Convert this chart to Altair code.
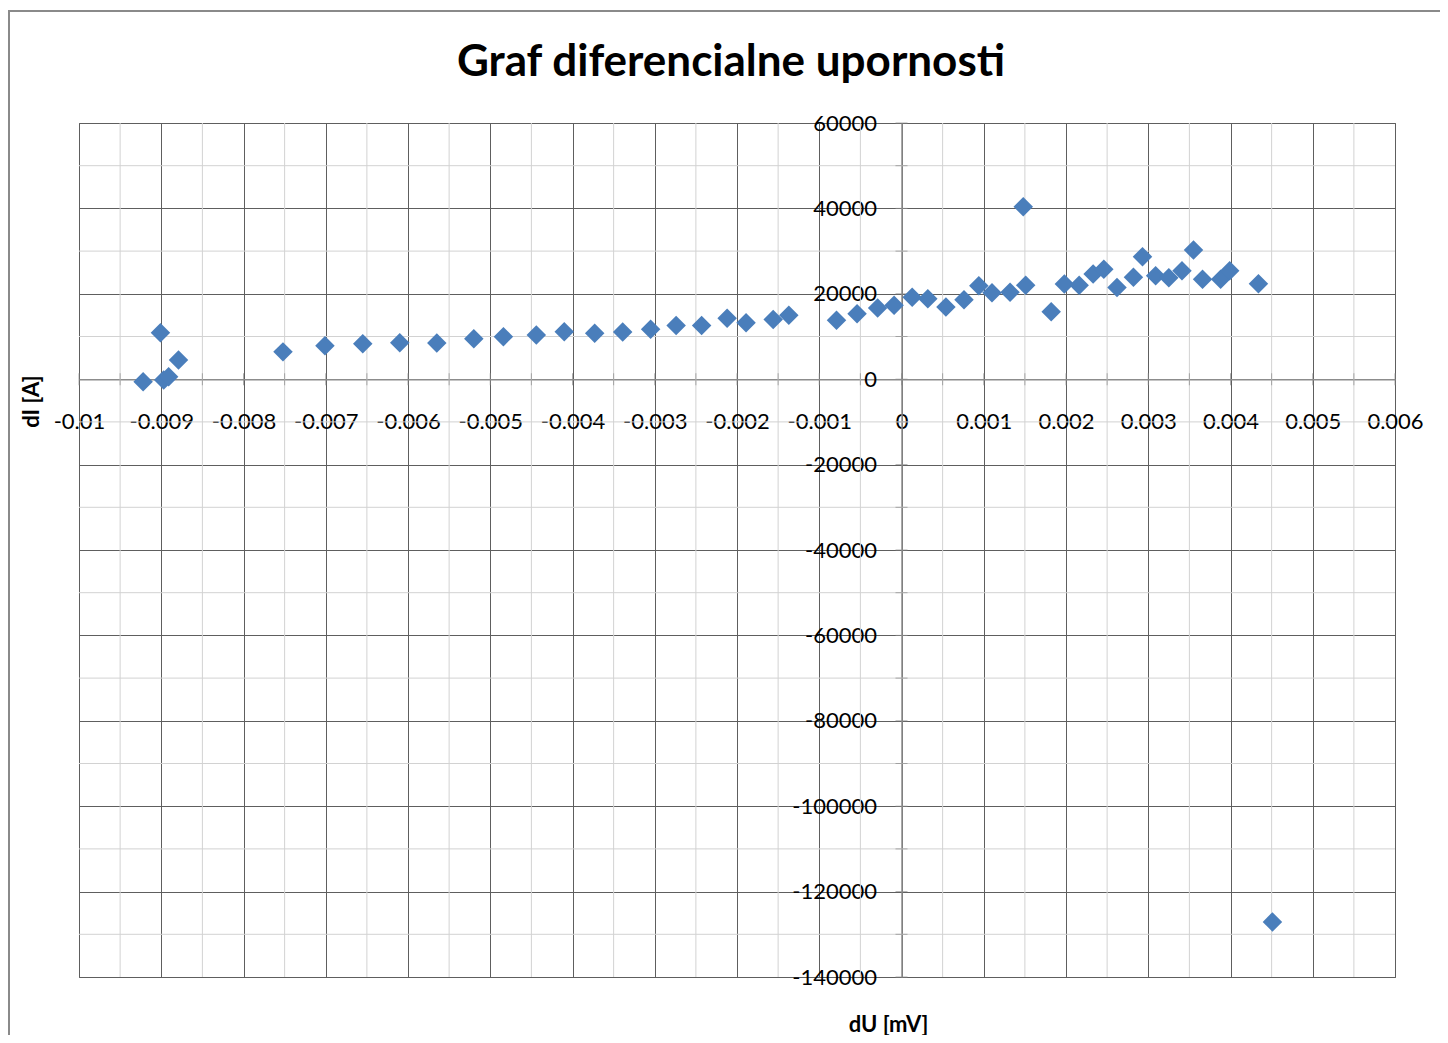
import altair as alt
import pandas as pd

# ---- data ----
du = [-0.00922, -0.00901, -0.00897, -0.00891, -0.00879, -0.00752, -0.00701, -0.00655,
      -0.00610, -0.00565, -0.00520, -0.00484, -0.00444, -0.00410, -0.00373, -0.00339,
      -0.00305, -0.00274, -0.00243, -0.00212, -0.00189, -0.00156, -0.00137, -0.00079,
      -0.00054, -0.00029, -0.00009, 0.00013, 0.00032, 0.00054, 0.00076, 0.00094,
      0.00110, 0.00132, 0.00148, 0.00151, 0.00182, 0.00198, 0.00216, 0.00233,
      0.00246, 0.00262, 0.00282, 0.00293, 0.00309, 0.00325, 0.00341, 0.00355,
      0.00366, 0.00388, 0.00399, 0.00434, 0.00451]
di = [-600, 10900, -200, 600, 4500, 6400, 7850, 8300,
      8550, 8500, 9500, 9950, 10350, 11100, 10750, 11050,
      11700, 12600, 12600, 14300, 13200, 14000, 14950, 13800,
      15350, 16650, 17300, 19200, 18850, 16900, 18600, 21900,
      20250, 20350, 40400, 22000, 15800, 22300, 22000, 24650,
      25750, 21500, 23850, 28700, 24250, 23750, 25400, 30250,
      23400, 23400, 25400, 22350, -127100]

x_major = [-0.01, -0.009, -0.008, -0.007, -0.006, -0.005, -0.004, -0.003, -0.002,
           -0.001, 0, 0.001, 0.002, 0.003, 0.004, 0.005, 0.006]
x_minor = [-0.0095, -0.0085, -0.0075, -0.0065, -0.0055, -0.0045, -0.0035, -0.0025,
           -0.0015, -0.0005, 0.0005, 0.0015, 0.0025, 0.0035, 0.0045, 0.0055]
y_major = [-140000, -120000, -100000, -80000, -60000, -40000, -20000, 0, 20000, 40000, 60000]
y_minor = [-130000, -110000, -90000, -70000, -50000, -30000, -10000, 10000, 30000, 50000]

TITLE = "Graf diferencialne upornosti"
X_TITLE = "dU [mV]"
Y_TITLE = "dI [A]"

# ---- layout ----
W, H = 1316, 854
X0, X1 = -0.01, 0.006
Y0, Y1 = -140000, 60000
x_zero_px = (0 - X0) / (X1 - X0) * W
y_zero_from_bottom = (0 - Y0) / (Y1 - Y0) * H

FONT = "Lato"
MAJOR = "#5e5e5e"
MINOR = "#d2d2d2"
AXIS = "#8c8c8c"
BLUE = "#4a7ebb"

xs = alt.Scale(domain=[X0, X1], nice=False, zero=False)
ys = alt.Scale(domain=[Y0, Y1], nice=False, zero=False)

pts = pd.DataFrame({"du": du, "di": di})
minor_x_df = pd.DataFrame({"v": x_minor})
minor_y_df = pd.DataFrame({"v": y_minor})
xt_df = pd.DataFrame({"v": x_major + x_minor, "z": [0] * (len(x_major) + len(x_minor))})
yt_df = pd.DataFrame({"v": y_major + y_minor, "z": [0] * (len(y_major) + len(y_minor))})
one = pd.DataFrame({"a": [0]})

frame = alt.Chart(one).mark_rect(
    filled=False, fillOpacity=0, stroke="#8a8a8a", strokeWidth=2
).encode(
    x=alt.value(-70), x2=alt.value(W + 200),
    y=alt.value(-112), y2=alt.value(H + 200),
)

title = alt.Chart(one).mark_text(
    font=FONT, fontSize=44, fontWeight="bold", color="black",
    align="center", baseline="alphabetic",
).encode(x=alt.value(652), y=alt.value(-47), text=alt.value(TITLE))

minor_x = alt.Chart(minor_x_df).mark_rule(color=MINOR, strokeWidth=1).encode(
    x=alt.X("v:Q", scale=xs)
)
minor_y = alt.Chart(minor_y_df).mark_rule(color=MINOR, strokeWidth=1).encode(
    y=alt.Y("v:Q", scale=ys)
)

xticks = alt.Chart(xt_df).mark_tick(orient="vertical", size=12, thickness=1, color=AXIS).encode(
    x=alt.X("v:Q", scale=xs),
    y=alt.Y("z:Q", scale=ys),
)
yticks = alt.Chart(yt_df).mark_tick(orient="horizontal", size=12, thickness=1, color=AXIS).encode(
    x=alt.X("z:Q", scale=xs),
    y=alt.Y("v:Q", scale=ys),
)

x_axis = alt.Axis(
    values=x_major, grid=True, gridColor=MAJOR, gridWidth=1,
    domain=True, domainColor=AXIS, domainWidth=1.5, ticks=False,
    offset=-y_zero_from_bottom,
    labelExpr="datum.value < 0 ? '-' + format(-datum.value, '~r') : format(datum.value, '~r')",
    labelFont=FONT, labelFontSize=22, labelColor="black",
    labelBaseline="middle", labelPadding=42, labelFlush=False, labelOverlap=False,
    title=X_TITLE, titleFont=FONT, titleFontSize=22, titleFontWeight="bold",
    titleColor="black", titleX=809, titleY=901 - (H - y_zero_from_bottom),
    titleAlign="center", titleBaseline="middle", titleAngle=0,
)
y_axis = alt.Axis(
    values=y_major, grid=True, gridColor=MAJOR, gridWidth=1,
    domain=True, domainColor=AXIS, domainWidth=1.5, ticks=False,
    offset=-x_zero_px,
    labelExpr="datum.value < 0 ? '-' + format(-datum.value, 'd') : format(datum.value, 'd')",
    labelFont=FONT, labelFontSize=22, labelColor="black",
    labelPadding=25, labelFlush=False, labelOverlap=False,
    title=Y_TITLE, titleFont=FONT, titleFontSize=22, titleFontWeight="bold",
    titleColor="black", titleX=-48 - x_zero_px, titleY=278,
    titleAlign="center", titleBaseline="middle", titleAngle=270,
)

points = alt.Chart(pts).mark_point(
    shape="diamond", filled=True, size=380, color=BLUE, opacity=1
).encode(
    x=alt.X("du:Q", scale=xs, axis=x_axis),
    y=alt.Y("di:Q", scale=ys, axis=y_axis),
)

chart = alt.layer(frame, title, minor_x, minor_y, xticks, yticks, points).properties(
    width=W, height=H,
    background="white",
    autosize=alt.AutoSizeParams(type="none"),
    padding={"left": 71, "top": 115, "right": 45, "bottom": 58},
).configure_view(stroke=MAJOR, strokeWidth=1)

chart.save("out.html", embed_options={"renderer": "svg", "actions": False})
